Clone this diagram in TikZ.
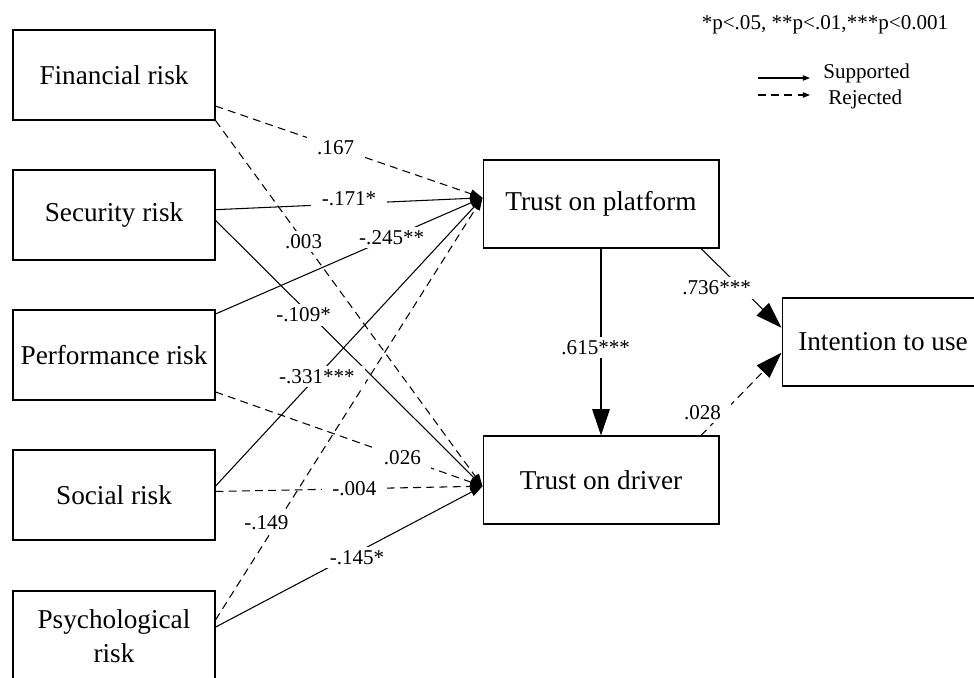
\documentclass[tikz,border=0pt]{standalone}
\usepackage{fontspec}
\setmainfont{Liberation Serif}
\usetikzlibrary{arrows.meta}

\begin{document}
\begin{tikzpicture}[x=0.02cm,y=-0.02cm,
	riskbox/.style={draw,line width=0.6pt,minimum width=4.04cm,minimum height=1.8cm,inner sep=0pt,align=center,font=\fontsize{15.5}{19}\selectfont},
	trustbox/.style={riskbox,minimum width=4.72cm,minimum height=1.76cm},
	lbl/.style={fill=white,inner xsep=6pt,inner ysep=2pt,font=\fontsize{12}{14}\selectfont},
	sup/.style={line width=0.6pt,-{Triangle[length=7pt,width=5pt]}},
	rej/.style={sup,dash pattern=on 4.5pt off 3pt},
	supbig/.style={sup,-{Triangle[length=15pt,width=10pt]}},
	rejbig/.style={rej,-{Triangle[length=15pt,width=10pt]}},
	legtip/.style={-{Triangle[length=4pt,width=3pt]}}]

\def\wid{974}
\def\hei{677}

\useasboundingbox (0,0) rectangle (\wid,\hei);
\clip (0,0) rectangle (\wid,\hei);

% risk factors on the left
\foreach \nm/\txt/\yy in {fin/Financial risk/75, sec/Security risk/215, perf/Performance risk/355, soc/Social risk/495, psy/{Psychological\\risk}/636}{
	\node[riskbox] (\nm) at (114,\yy) {\txt};
}

\node[trustbox] (tp) at (601,204) {Trust on platform};
\node[trustbox] (td) at (601,480) {Trust on driver};
\node[riskbox,minimum height=1.76cm] (itu) at (883,342) {Intention to use};

% from/to/style/pos/xshift/yshift/label
\def\paths{fin.-17/tp.177/rej/.45/0/0/.167,
	fin.south east/td.183/rej/.33/0/0/.003,
	sec.3/tp.177/sup/.5/0/3/-.171*,
	sec.-3/td.183/sup/.33/0/-4/-.109*,
	perf.22/tp.177/sup/.66/0/0/-.245**,
	perf.-20/td.183/rej/.7/0/0/.026,
	soc.5/tp.177/sup/.38/0/0/-.331***,
	soc.2/td.183/rej/.52/0/0/-.004,
	psy.9/tp.177/rej/.23/-6/0/-.149,
	psy.5/td.183/sup/.53/0/-3/-.145*,
	tp/td/supbig/.53/-3/0/.615***,
	tp.-24/itu.172/supbig/.5/-14/0/.736***,
	td.24/itu.186/rejbig/.28/-12/0/.028}

% lines first, labels on top of all of them
\foreach \a/\b/\st/\p/\dx/\dy/\l in \paths{
	\draw[\st] (\a) -- (\b);
}
\foreach \a/\b/\st/\p/\dx/\dy/\l [count=\i] in \paths{
	\path (\a) -- node[lbl,pos=\p,xshift=\dx pt,yshift=\dy pt] (coef\i) {\l} (\b);
}

% legend
\node[font=\fontsize{12}{14}\selectfont] (sig) at (825,25) {*p<.05, **p<.01,***p<0.001};
\coordinate (s0) at (758,78);
\coordinate (s1) at (810,78);
\coordinate (r0) at (758,95);
\coordinate (r1) at (810,95);
\draw[sup,legtip] (s0) -- (s1);
\draw[rej,legtip] (r0) -- (r1);
\node[anchor=west,inner sep=0pt,font=\fontsize{12}{14}\selectfont] (supl) at (823,73) {Supported};
\node[anchor=west,inner sep=0pt,font=\fontsize{12}{14}\selectfont] (rejl) at (828,99) {Rejected};

\end{tikzpicture}
\end{document}
